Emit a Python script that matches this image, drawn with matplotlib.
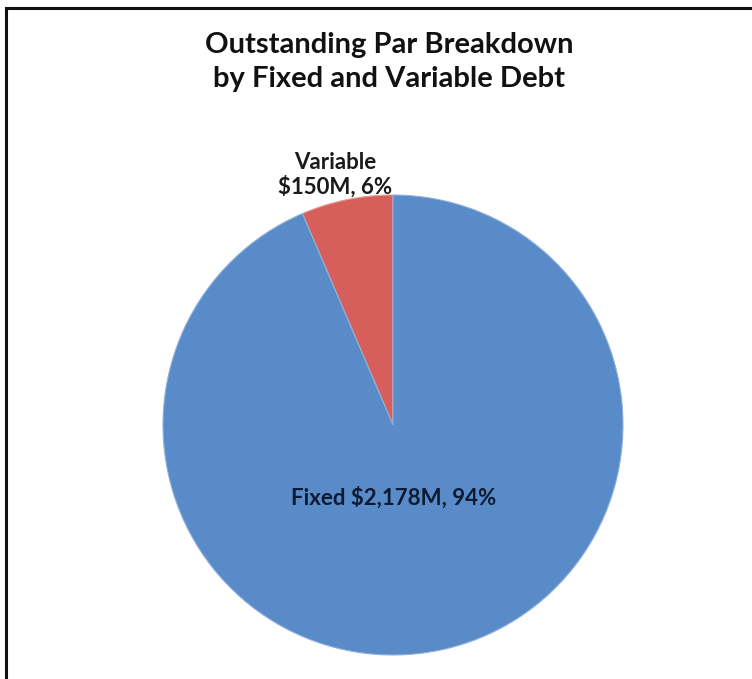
import numpy as np
import matplotlib
matplotlib.use("Agg")
import matplotlib.pyplot as plt
from matplotlib.lines import Line2D

plt.rcParams["font.family"] = ["Lato", "DejaVu Sans"]

categories = ["Variable", "Fixed"]
values_m = [150, 2178]
pct_labels = ["6%", "94%"]
colors = ["#D65F5B", "#5A8BC9"]

W, H = 752, 679
fig = plt.figure(figsize=(W / 100, H / 100), dpi=100)

# frame lines (top and left only, as in the reference)
fig.add_artist(Line2D([6 / W, 1], [1 - 8 / H, 1 - 8 / H], color="#111111", lw=2.2))
fig.add_artist(Line2D([6 / W, 6 / W], [0, 1 - 8 / H], color="#111111", lw=2.2))

fig.text(389 / W, 1 - 45 / H, "Outstanding Par Breakdown",
         ha="center", va="center", fontsize=21, fontweight="bold", color="#111111")
fig.text(389 / W, 1 - 79 / H, "by Fixed and Variable Debt",
         ha="center", va="center", fontsize=21, fontweight="bold", color="#111111")

ax = fig.add_axes([163 / W, (H - 655) / H, 460 / W, 460 / H])
wedges, _ = ax.pie(values_m, colors=colors, startangle=90, counterclock=True,
                   wedgeprops=dict(edgecolor="#8FB0DC", linewidth=0.8))
wedges[0].set_edgecolor("#E89A96")
ax.set_xlim(-1, 1)
ax.set_ylim(-1, 1)
ax.set_aspect("equal")
ax.axis("off")

dists = [1.11, 0.32]
for w, cat, v, p, d in zip(wedges, categories, values_m, pct_labels, dists):
    mid = np.deg2rad((w.theta1 + w.theta2) / 2)
    x, y = d * np.cos(mid), d * np.sin(mid)
    if cat == "Variable":
        txt = f"{cat}\n${v:,}M, {p}"
        x -= 0.03
    else:
        txt = f"{cat} ${v:,}M, {p}"
        x -= 0.06
    ax.text(x, y, txt, ha="center", va="center", fontsize=16, fontweight="bold",
            color="#1a1a1a" if cat == "Variable" else "#0d1a33", linespacing=1.15,
            clip_on=False)

fig.savefig("out.png", dpi=100, facecolor="white")
